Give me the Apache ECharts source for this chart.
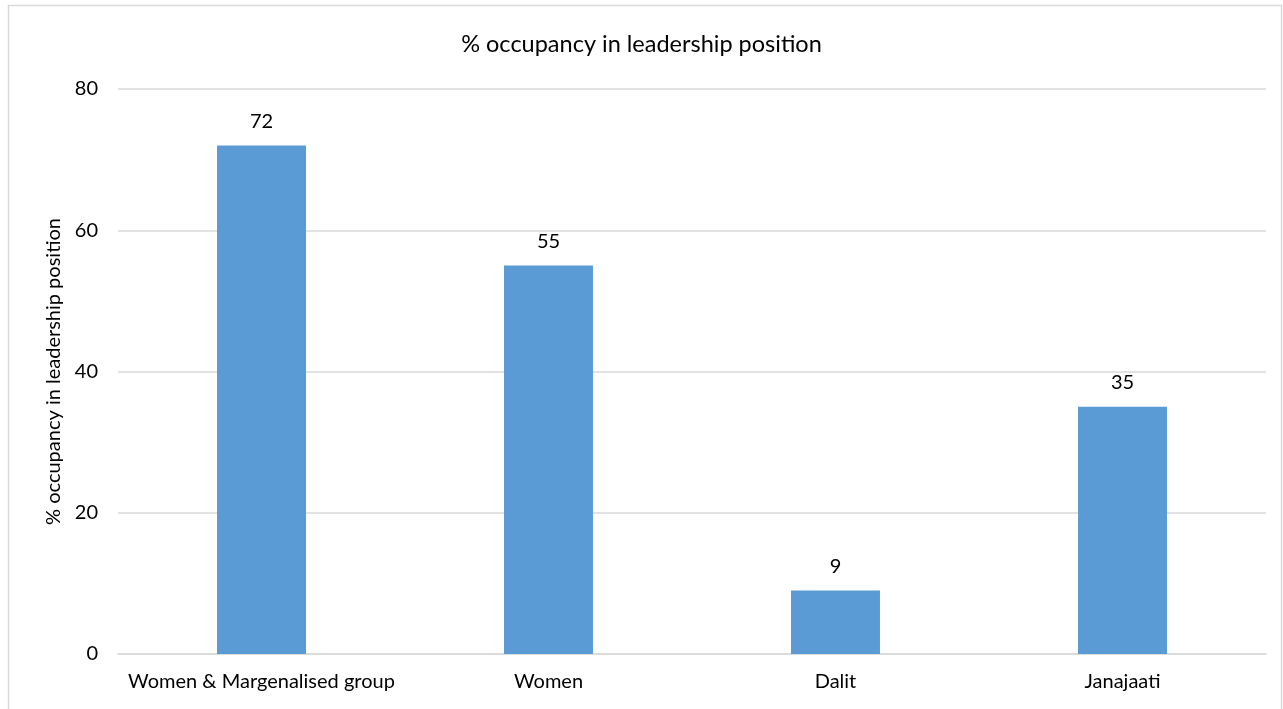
<!DOCTYPE html>
<html>
<head>
<meta charset="utf-8">
<script src="https://cdn.jsdelivr.net/npm/echarts@6/dist/echarts.min.js"></script>
<style>
  html, body { margin: 0; padding: 0; background: #fff; }
  #chart { width: 1283px; height: 709px; }
</style>
</head>
<body>
<div id="chart"></div>
<script>
// data
const groups = ['Women & Margenalised group', 'Women', 'Dalit', 'Janajaati']
const occupancy = [72, 55, 9, 35]
const yTicks = [0, 20, 40, 60, 80]

const fontFam = 'Lato, "Open Sans", sans-serif'
const chart = echarts.init(document.getElementById('chart'))

const option = {
  animation: false,
  backgroundColor: '#fff',
  title: {
    text: '% occupancy in leadership position',
    left: 'center',
    top: 27,
    textStyle: { fontFamily: fontFam, fontSize: 23.5, fontWeight: 'normal', color: '#000' }
  },
  graphic: [{
    type: 'rect',
    shape: { x: 8.5, y: 5.5, width: 1273, height: 720 },
    style: { fill: 'none', stroke: '#d9d9d9', lineWidth: 1.5 },
    silent: true
  }],
  grid: { left: 118, right: 17, top: 89, bottom: 55, containLabel: false },
  xAxis: {
    type: 'category',
    data: groups,
    axisLine: { show: true, lineStyle: { color: '#d9d9d9', width: 1.5 } },
    axisTick: { show: false },
    axisLabel: { interval: 0, color: '#000', fontFamily: fontFam, fontSize: 20, margin: 18 }
  },
  yAxis: {
    type: 'value',
    min: yTicks[0],
    max: yTicks[yTicks.length - 1],
    interval: 20,
    name: '% occupancy in leadership position',
    nameLocation: 'middle',
    nameGap: 48,
    nameRotate: 90,
    nameTextStyle: { color: '#000', fontFamily: fontFam, fontSize: 20 },
    axisLine: { show: false },
    axisTick: { show: false },
    axisLabel: { color: '#000', fontFamily: fontFam, fontSize: 20, margin: 20 },
    splitLine: { lineStyle: { color: '#d9d9d9', width: 1.5 } }
  },
  series: [{
    type: 'bar',
    data: occupancy,
    barWidth: '31%',
    itemStyle: { color: '#5b9bd5' },
    label: {
      show: true,
      position: 'top',
      distance: 14,
      color: '#000',
      fontFamily: fontFam,
      fontSize: 20
    }
  }]
}

chart.setOption(option)
</script>
</body>
</html>
